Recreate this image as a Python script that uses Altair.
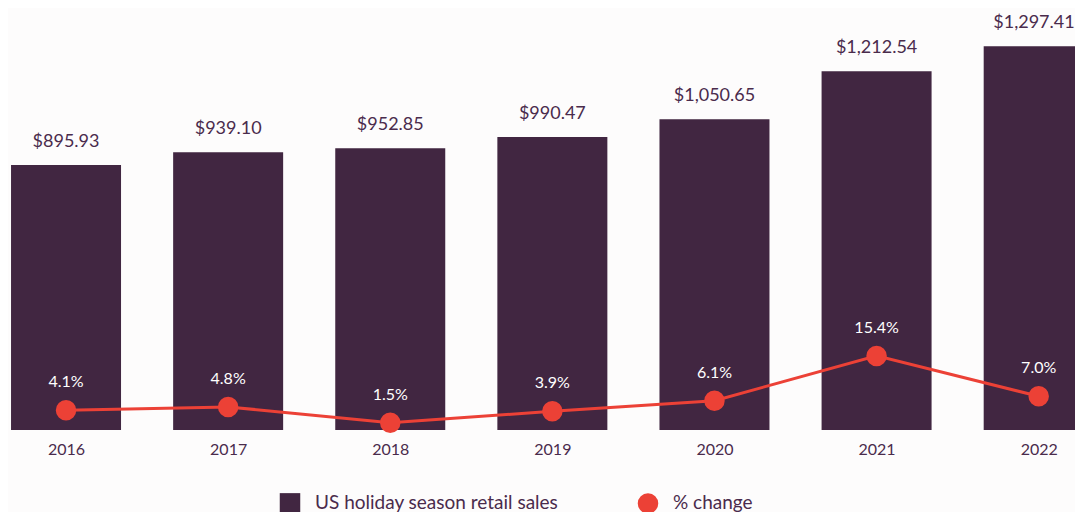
import altair as alt
import pandas as pd

years = [2016, 2017, 2018, 2019, 2020, 2021, 2022]
sales = [895.93, 939.10, 952.85, 990.47, 1050.65, 1212.54, 1297.41]
pct_change = [4.1, 4.8, 1.5, 3.9, 6.1, 15.4, 7.0]
series_names = ["US holiday season retail sales", "% change"]

PURPLE = "#412641"
TEXT = "#4a2b4c"
RED = "#ec4136"
FONT = "Lato"

df = pd.DataFrame({"year": years, "sales": sales, "pct": pct_change})
df["series"] = series_names[1]

x = alt.X(
    "year:Q",
    scale=alt.Scale(domain=[2015.642, 2022.224], nice=False, zero=False, padding=0),
    axis=alt.Axis(
        values=years, format="d", title=None, grid=False, domain=False, ticks=False,
        tickSize=0, labelFont=FONT, labelFontSize=16, labelColor=TEXT,
        labelPadding=24, labelBaseline="alphabetic",
    ),
)

y_sales = alt.Y("sales:Q", scale=alt.Scale(domain=[0, 1426.6], nice=False, padding=0), axis=None)
y_pct = alt.Y("pct:Q", scale=alt.Scale(domain=[0, 87.7], nice=False, padding=0), axis=None)

base = alt.Chart(df)
last_year = years[-1]

bars = base.mark_bar(size=110, color=PURPLE).encode(x=x, y=y_sales)
bar_labels = base.transform_filter(f"datum.year < {last_year}").mark_text(
    dy=-18, baseline="alphabetic", font=FONT, fontSize=18, color=TEXT
).encode(x=x, y=y_sales, text=alt.Text("sales:Q", format="$,.2f"))
last_label = base.transform_filter(f"datum.year == {last_year}").mark_text(
    dy=-18, dx=36, align="right", baseline="alphabetic", font=FONT, fontSize=18, color=TEXT
).encode(x=x, y=y_sales, text=alt.Text("sales:Q", format="$,.2f"))

line = base.mark_line(color=RED, strokeWidth=3).encode(x=x, y=y_pct)

legend_kw = dict(
    title=None, orient="none", legendX=271, legendY=484, direction="horizontal",
    labelFont=FONT, labelFontSize=19, labelColor=TEXT, symbolSize=420,
    symbolOpacity=1, labelOffset=14, columnPadding=75, padding=0, labelLimit=500,
)
points = base.mark_point(filled=True, size=420, opacity=1).encode(
    x=x,
    y=y_pct,
    color=alt.Color(
        "series:N",
        scale=alt.Scale(domain=series_names, range=[PURPLE, RED]),
        legend=alt.Legend(**legend_kw),
    ),
    shape=alt.Shape(
        "series:N",
        scale=alt.Scale(domain=series_names, range=["square", "circle"]),
        legend=alt.Legend(**legend_kw),
    ),
)
pct_labels = base.transform_calculate(
    lab="format(datum.pct, '.1f') + '%'"
).mark_text(
    dy=-23, baseline="alphabetic", font=FONT, fontSize=16, color="white"
).encode(x=x, y=y_pct, text="lab:N")

chart = (
    alt.layer(bars, bar_labels, last_label, line, points, pct_labels)
    .resolve_scale(y="independent")
    .properties(
        width=1067, height=422,
        autosize=alt.AutoSizeParams(type="none"),
        padding={"left": 0, "top": 0, "right": 0, "bottom": 82},
        background="#fdfcfc",
    )
    .configure_view(stroke=None)
)

chart.save("out.html", embed_options={"renderer": "svg", "actions": False})
